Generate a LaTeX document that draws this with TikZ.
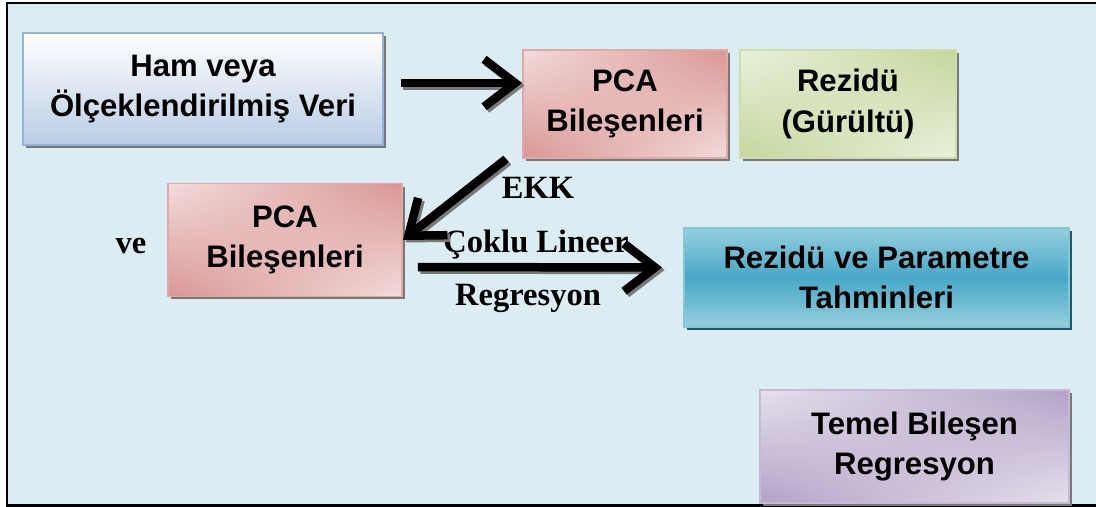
\documentclass[tikz,border=0pt]{standalone}
\usepackage{fontspec}
\setmainfont{Liberation Serif}
\setsansfont{Liberation Sans}
\usetikzlibrary{shadows,shadings,arrows.meta}

\definecolor{bgblue}{RGB}{219,237,243}
\definecolor{shadowgray}{RGB}{120,120,120}
\definecolor{blueedge}{RGB}{149,179,215}
\definecolor{bluelow}{RGB}{185,205,229}
\definecolor{pinkdark}{RGB}{217,150,148}
\definecolor{pinklight}{RGB}{242,220,219}
\definecolor{pinkedge}{RGB}{226,168,166}
\definecolor{greendark}{RGB}{195,214,155}
\definecolor{greenlight}{RGB}{235,241,222}
\definecolor{greenedge}{RGB}{205,222,170}
\definecolor{tealdark}{RGB}{70,168,198}
\definecolor{teallight}{RGB}{150,207,222}
\definecolor{tealedge}{RGB}{130,200,216}
\definecolor{tealshadow}{RGB}{33,89,104}
\definecolor{purpledark}{RGB}{179,162,199}
\definecolor{purplelight}{RGB}{230,224,236}
\definecolor{purpleedge}{RGB}{200,186,214}

\tikzset{
  box/.style={shape=rectangle,align=center,line width=1.1pt,inner sep=0pt,
    font=\sffamily\bfseries\fontsize{17.7}{23}\selectfont,
    drop shadow={shadow xshift=0.06cm,shadow yshift=-0.06cm,opacity=1,fill=shadowgray}},
  rawbox/.style={box,draw=blueedge,top color=white,bottom color=bluelow},
  pcabox/.style={box,draw=pinkedge,upper left=pinklight,upper right=pinkdark,
    lower left=pinkdark,lower right=pinklight},
  noisebox/.style={box,draw=greenedge,upper left=greenlight,upper right=greendark,
    lower left=greendark,lower right=greenlight},
  estbox/.style={box,draw=tealedge,top color=teallight,bottom color=teallight,
    middle color=tealdark,
    drop shadow={shadow xshift=0.06cm,shadow yshift=-0.06cm,opacity=1,fill=tealshadow}},
  pcrbox/.style={box,draw=purpleedge,upper left=purplelight,upper right=purpledark,
    lower left=purpledark,lower right=purplelight},
  lbl/.style={font=\rmfamily\bfseries\fontsize{18.5}{23}\selectfont,inner sep=0pt},
  bigarrow/.style={line width=0.17cm,-{Straight Barb[length=0.62cm,width=0.95cm]}},
  arrowshadow/.style={bigarrow,draw=shadowgray,transform canvas={shift={(0.05cm,-0.05cm)}}}
}

\begin{document}
\begin{tikzpicture}[x=0.02cm,y=-0.02cm]
\useasboundingbox (0,0) rectangle (1096,507);
\fill[bgblue] (7,3) rectangle (1096,505);
\draw[line width=0.06cm] (1096,3) -- (7,3) -- (7,505) -- (1096,505);

\node[rawbox,minimum width=7.2cm,minimum height=2.24cm] (0) at (203,89) {Ham veya\\Ölçeklendirilmiş Veri};
\node[pcabox,minimum width=4.08cm,minimum height=2.16cm] (1) at (625,104) {PCA\\Bileşenleri};
\node[noisebox,minimum width=4.32cm,minimum height=2.16cm] (2) at (848,104) {Rezidü\\(Gürültü)};
\node[pcabox,minimum width=4.68cm,minimum height=2.26cm] (3) at (285,240) {PCA\\Bileşenleri};
\node[estbox,minimum width=7.7cm,minimum height=1.98cm] (4) at (876.5,277.5) {Rezidü ve Parametre\\Tahminleri};
\node[pcrbox,minimum width=6.18cm,minimum height=2.26cm] (5) at (914.5,446.5) {Temel Bileşen\\Regresyon};

\node[lbl] (6) at (131,246) {ve};
\node[lbl] (7) at (538,188) {EKK};
\node[lbl] (8) at (536,245) {Çoklu Lineer};
\node[lbl] (9) at (528,298) {Regresyon};

% shadows first, then the black arrows
\draw[arrowshadow] ([shift={(17,-6)}]0.east) -- ([shift={(0,-21)}]1.west);
\draw[arrowshadow] ([shift={(-16,0)}]1.south west) -- (3.east);
\draw[arrowshadow] ([shift={(15,27)}]3.east) -- ([shift={(-21,-10)}]4.west);
\draw[bigarrow] ([shift={(17,-6)}]0.east) -- ([shift={(0,-21)}]1.west);
\draw[bigarrow] ([shift={(-16,0)}]1.south west) -- (3.east);
\draw[bigarrow] ([shift={(15,27)}]3.east) -- ([shift={(-21,-10)}]4.west);
\end{tikzpicture}
\end{document}
